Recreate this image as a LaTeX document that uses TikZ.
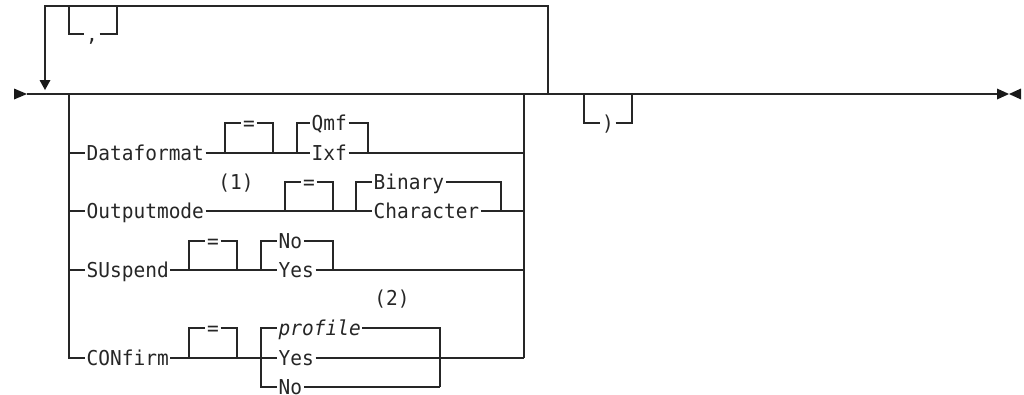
\documentclass[tikz,border=0pt]{standalone}
\usepackage{fontspec}
\setmonofont{DejaVu Sans Mono}[FakeStretch=0.95]
\begin{document}
\begin{tikzpicture}[x=1pt,y=-1pt,
  rail/.style={line width=1.2pt, draw=black!85},
  lbl/.style={font=\ttfamily\fontsize{20.5}{24}\selectfont, inner xsep=1.5pt, inner ysep=0pt,
    text height=14.9pt, text depth=0pt, anchor=west, text=black!85},
  sym/.style={lbl, anchor=center},
  note/.style={font=\ttfamily\fontsize{20.5}{24}\selectfont, inner sep=0pt, anchor=center, text=black!85},
  tipfill/.style={fill=black!90, draw=none}]
\useasboundingbox (0,0) rectangle (1024,394);

% key coordinates
\coordinate (start) at (27,94);
\coordinate (stop) at (997,94);
\coordinate (L) at (69,94);
\coordinate (R) at (524,94);
\coordinate (loopR) at (548,94);
\coordinate (loopL) at (45,80);

% texts
\node[sym] (comma) at (92,34) {,};
\node[sym] (rp) at (608,123) {)};

\node[lbl] (df) at (85,153) {Dataformat};
\node[sym] (eq1) at (249,123) {=};
\node[lbl] (qmf) at (310,123) {Qmf};
\node[lbl] (ixf) at (310,153) {Ixf};

\node[lbl] (om) at (85,211) {Outputmode};
\node[note] (n1) at (236,183) {(1)};
\node[sym] (eq2) at (309,182) {=};
\node[lbl] (bin) at (372,182) {Binary};
\node[lbl] (chr) at (372,211) {Character};

\node[lbl] (su) at (85,270) {SUspend};
\node[sym] (eq3) at (213,241) {=};
\node[lbl] (no1) at (277,241) {No};
\node[lbl] (yes1) at (277,270) {Yes};

\node[lbl] (cf) at (85,358) {CONfirm};
\node[note] (n2) at (392,299) {(2)};
\node[sym] (eq4) at (213,328) {=};
\node[lbl] (prof) at (277,328) {\itshape profile};
\node[lbl] (yes2) at (277,358) {Yes};
\node[lbl] (no2) at (277,387) {No};

% main line and repeat loop
\draw[rail] (start) -- (stop);
\draw[rail] (loopR) -- (548,6) -- (45,6) -- (loopL);
\draw[rail] (69,6) |- (comma.west);
\draw[rail] (comma.east) -| (117,6);
\draw[rail] (584,94) |- (rp.west);
\draw[rail] (rp.east) -| (632,94);

% choice stack verticals
\draw[rail] (L) |- (cf.west);
\draw[rail] (R) -- (524,358);

% Dataformat row
\draw[rail] (69,153) -- (df.west);
\draw[rail] (df.east) -- (ixf.west);
\draw[rail] (225,153) |- (eq1.west);
\draw[rail] (eq1.east) -| (273,153);
\draw[rail] (297,153) |- (qmf.west);
\draw[rail] (qmf.east) -| (368,153);
\draw[rail] (ixf.east) -- (524,153);

% Outputmode row
\draw[rail] (69,211) -- (om.west);
\draw[rail] (om.east) -- (chr.west);
\draw[rail] (285,211) |- (eq2.west);
\draw[rail] (eq2.east) -| (333,211);
\draw[rail] (356,211) |- (bin.west);
\draw[rail] (bin.east) -| (501,211);
\draw[rail] (chr.east) -- (524,211);

% SUspend row
\draw[rail] (69,270) -- (su.west);
\draw[rail] (su.east) -- (yes1.west);
\draw[rail] (189,270) |- (eq3.west);
\draw[rail] (eq3.east) -| (237,270);
\draw[rail] (261,270) |- (no1.west);
\draw[rail] (no1.east) -| (333,270);
\draw[rail] (yes1.east) -- (524,270);

% CONfirm row
\draw[rail] (cf.east) -- (yes2.west);
\draw[rail] (189,358) |- (eq4.west);
\draw[rail] (eq4.east) -| (237,358);
\draw[rail] (261,358) |- (prof.west);
\draw[rail] (261,358) |- (no2.west);
\draw[rail] (prof.east) -| (440,387);
\draw[rail] (no2.east) -- (440,387);
\draw[rail] (yes2.east) -- (524,358);

% arrowheads
\fill[tipfill] (14,88.5) -- (start) -- (14,99.5) -- cycle;
\fill[tipfill] (39.5,80) -- (50.5,80) -- (45,90) -- cycle;
\fill[tipfill] (997,88.5) -- (1009,94) -- (997,99.5) -- cycle;
\fill[tipfill] (1021,88.5) -- (1009,94) -- (1021,99.5) -- cycle;
\end{tikzpicture}
\end{document}
